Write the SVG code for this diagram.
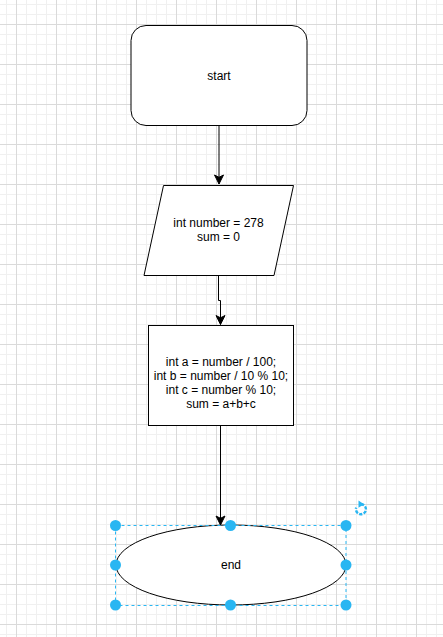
<svg xmlns="http://www.w3.org/2000/svg" width="443" height="637" viewBox="0 0 443 637">
<style>
.shape{fill:#fff;stroke:#000;stroke-width:1}
.lbl{font-family:"Liberation Sans",Arial,sans-serif;font-size:12px;fill:#000;text-anchor:middle}
.edge{fill:none;stroke:#000;stroke-width:1}
.handle{fill:#29b6f2;stroke:none}
.sel{fill:none;stroke:#29b6f2;stroke-width:1;stroke-dasharray:3 3}
</style>
<defs>
<pattern id="grid" patternUnits="userSpaceOnUse" x="16" y="24" width="40" height="40">
<path d="M10.5 0V40M20.5 0V40M30.5 0V40M0 10.5H40M0 20.5H40M0 30.5H40" stroke="#f0f0f0" stroke-width="1" fill="none"/>
<path d="M0.5 0V40M0 0.5H40" stroke="#dadada" stroke-width="1" fill="none"/>
</pattern>
<marker id="arr" markerUnits="userSpaceOnUse" markerWidth="12" markerHeight="12" viewBox="0 0 12 12" refX="10" refY="6" orient="auto">
<path d="M1,1.5 L10,6 L1,10.5 L3.3,6 Z" fill="#000" stroke="#000" stroke-width="1"/>
</marker>
</defs>
<rect width="443" height="637" fill="#fff"/>
<rect width="443" height="637" fill="url(#grid)"/>
<g id="connectors">
<path class="edge" d="M219 125.5V184" marker-end="url(#arr)"/>
<path class="edge" d="M218.5 275V300.5H220.5V324.5" marker-end="url(#arr)"/>
<path class="edge" d="M220.5 425.5V525" marker-end="url(#arr)"/>
</g>
<g id="start">
<rect class="shape" x="131" y="25.5" width="176" height="100" rx="15" ry="15"/>
<text class="lbl" x="219" y="80">start</text>
</g>
<g id="input">
<polygon class="shape" points="163.5,185.5 293.5,185.5 274,275.5 144,275.5"/>
<text class="lbl" x="218.5" y="227">int number = 278</text>
<text class="lbl" x="218.5" y="241">sum = 0</text>
</g>
<g id="process">
<rect class="shape" x="148.5" y="325.5" width="145" height="100"/>
<text class="lbl" x="221" y="366">int a = number / 100;</text>
<text class="lbl" x="221" y="380">int b = number / 10 % 10;</text>
<text class="lbl" x="221" y="394">int c = number % 10;</text>
<text class="lbl" x="221" y="408">sum = a+b+c</text>
</g>
<g id="end">
<ellipse class="shape" cx="231" cy="565" rx="115" ry="40"/>
<text class="lbl" x="231" y="569">end</text>
</g>
<g id="selection">
<rect class="sel" x="115.5" y="525.5" width="230.5" height="80"/>
<circle class="handle" cx="115.5" cy="525.5" r="5.5"/>
<circle class="handle" cx="230.5" cy="525.5" r="5.5"/>
<circle class="handle" cx="346" cy="525.5" r="5.5"/>
<circle class="handle" cx="115.5" cy="565" r="5.5"/>
<circle class="handle" cx="346" cy="565" r="5.5"/>
<circle class="handle" cx="115.5" cy="605" r="5.5"/>
<circle class="handle" cx="230.5" cy="605" r="5.5"/>
<circle class="handle" cx="346" cy="605" r="5.5"/>
<path d="M361 504.2 A5 5 0 1 1 356.2 507.6" fill="none" stroke="#29b6f2" stroke-width="2.4" stroke-dasharray="3.2 1.4"/>
<polygon points="358.5,500.5 364,504.3 358.5,507.8" fill="#29b6f2"/>
</g>
</svg>
